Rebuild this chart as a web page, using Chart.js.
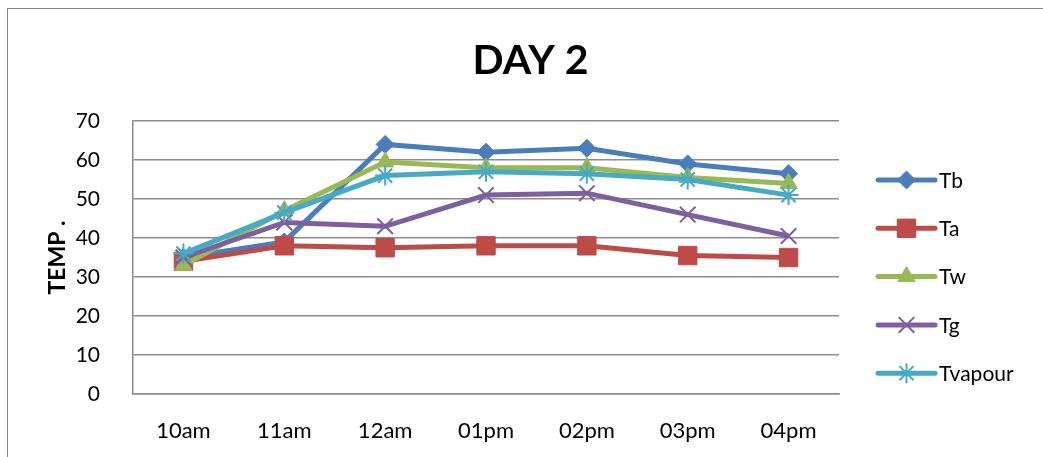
<!DOCTYPE html>
<html>
<head>
<meta charset="utf-8">
<title>DAY 2</title>
<script src="https://cdn.jsdelivr.net/npm/chart.js@4/dist/chart.umd.min.js"></script>
<style>
  html, body { margin: 0; padding: 0; background: #fff; overflow: hidden; }
  #wrap { position: relative; width: 1043px; height: 457px; }
  #frame {
    position: absolute; left: 7px; top: 8px; width: 1100px; height: 500px;
    border-left: 1px solid #8a8a8a; border-top: 1px solid #8a8a8a;
    pointer-events: none;
  }
</style>
</head>
<body>
<div id="wrap">
  <canvas id="c" width="1043" height="457"></canvas>
  <div id="frame"></div>
</div>
<script>
// Hourly readings for the second day
const hours = ['10am', '11am', '12am', '01pm', '02pm', '03pm', '04pm'];
const tb      = [35, 39, 64, 62, 63, 59, 56.5];
const ta      = [34, 38, 37.5, 38, 38, 35.5, 35];
const tw      = [33, 47, 59.5, 58, 58, 55.5, 54];
const tg      = [35, 44, 43, 51, 51.5, 46, 40.5];
const tvapour = [36, 46.5, 56, 57, 56.5, 55, 51];
const yTicks  = [0, 10, 20, 30, 40, 50, 60, 70];
const chartTitle = 'DAY 2';

const FONT = 'Lato, "Liberation Sans", sans-serif';

function series(label, data, color, style, radius, order) {
  const stroked = style === 'crossRot' || style === 'star';
  return {
    label, data, order,
    borderColor: color,
    backgroundColor: color,
    borderWidth: 5,
    pointStyle: style,
    pointRadius: radius,
    pointHoverRadius: radius,
    pointBorderWidth: stroked ? 2 : 1,
    pointBorderColor: color,
    pointBackgroundColor: color,
    tension: 0,
    fill: false
  };
}

const datasets = [
  series('Tb', tb, '#4a7ebb', 'rectRot', 9, 5),
  series('Ta', ta, '#be4b48', 'rect', 13, 4),
  series('Tw', tw, '#98b954', 'triangle', 10, 3),
  series('Tg', tg, '#7d60a0', 'crossRot', 11, 2),
  series('Tvapour', tvapour, '#46aac5', 'star', 10, 1)
];

// Title centred across the whole canvas, above the plot
const pageTitle = {
  id: 'pageTitle',
  afterDraw(chart) {
    const ctx = chart.ctx;
    ctx.save();
    ctx.fillStyle = '#000';
    ctx.font = 'bold 41px ' + FONT;
    ctx.textAlign = 'center';
    ctx.textBaseline = 'middle';
    ctx.fillText(chartTitle, chart.width / 2 + 9, 61);
    ctx.restore();
  }
};

// Legend on the right: line sample with its marker, then the series name
const sideLegend = {
  id: 'sideLegend',
  afterDraw(chart) {
    const ctx = chart.ctx;
    const x0 = 878, x1 = 935, top = 180, gap = 48.3;
    chart.data.datasets.forEach((ds, i) => {
      const y = top + i * gap;
      ctx.save();
      ctx.strokeStyle = ds.borderColor;
      ctx.lineWidth = 5;
      ctx.lineCap = 'round';
      ctx.beginPath();
      ctx.moveTo(x0, y);
      ctx.lineTo(x1, y);
      ctx.stroke();
      ctx.fillStyle = ds.pointBackgroundColor;
      ctx.strokeStyle = ds.pointBorderColor;
      ctx.lineWidth = ds.pointBorderWidth;
      ctx.lineCap = 'butt';
      Chart.helpers.drawPoint(ctx, {
        pointStyle: ds.pointStyle,
        radius: ds.pointRadius,
        borderWidth: ds.pointBorderWidth,
        rotation: 0
      }, (x0 + x1) / 2, y);
      ctx.fillStyle = '#000';
      ctx.font = '21px ' + FONT;
      ctx.textAlign = 'left';
      ctx.textBaseline = 'middle';
      ctx.fillText(ds.label, 939, y + 1);
      ctx.restore();
    });
  }
};

new Chart(document.getElementById('c'), {
  type: 'line',
  data: { labels: hours, datasets },
  options: {
    responsive: false,
    animation: false,
    events: [],
    layout: { padding: { left: 8, right: 204, top: 121, bottom: 0 } },
    plugins: {
      legend: { display: false },
      tooltip: { enabled: false },
      title: { display: false }
    },
    scales: {
      x: {
        offset: true,
        grid: { display: false, drawTicks: false },
        border: { display: true, color: '#8c8c8c', width: 1.5 },
        ticks: { color: '#000', padding: 24, font: { family: FONT, size: 22 }, maxRotation: 0 },
        afterFit(s) { s.height = 63; }
      },
      y: {
        min: 0,
        max: 70,
        afterBuildTicks(s) { s.ticks = yTicks.map(v => ({ value: v })); },
        grid: { color: '#8c8c8c', lineWidth: 1.5, drawTicks: false },
        border: { display: true, color: '#8c8c8c', width: 1.5 },
        ticks: { color: '#000', padding: 33, font: { family: FONT, size: 21 } },
        title: {
          display: true,
          text: 'TEMP .',
          color: '#000',
          font: { family: FONT, size: 23, weight: 'bold', lineHeight: 1.2 },
          padding: { top: 36, bottom: 0 }
        },
        afterFit(s) { s.width = 125; }
      }
    }
  },
  plugins: [pageTitle, sideLegend]
});
</script>
</body>
</html>
